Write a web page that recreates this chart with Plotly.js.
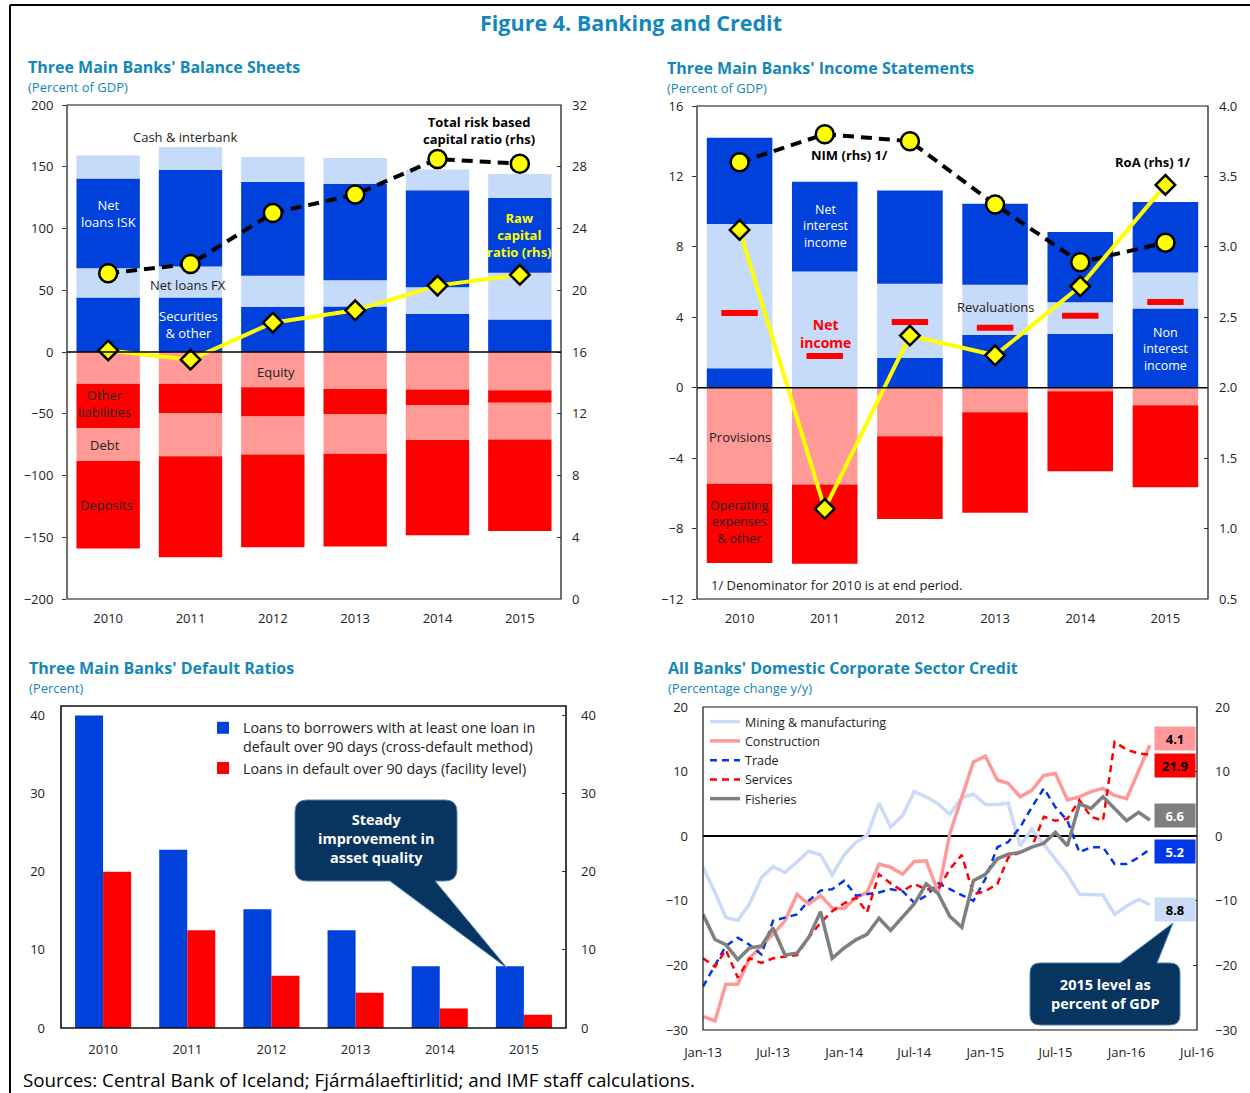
<!DOCTYPE html>
<html>
<head>
<meta charset="utf-8">
<script src="https://cdn.plot.ly/plotly-3.0.1.min.js"></script>
<style>html,body{margin:0;padding:0;background:#fff;}#chart{width:1250px;height:1093px;}</style>
</head>
<body>
<div id="chart"></div>
<script>
// ---------- DATA ----------
const years = ['2010','2011','2012','2013','2014','2015'];

// Panel 1: Three Main Banks' Balance Sheets (percent of GDP)
const bsSecurities = [44.1, 44.1, 36.6, 36.9, 30.7, 26.3];
const bsLoansFX    = [23.8, 25.2, 25.1, 21.2, 21.8, 37.9];
const bsLoansISK   = [72.6, 78.2, 76.0, 78.2, 78.5, 60.4];
const bsCash       = [18.7, 18.4, 20.1, 20.7, 16.8, 19.5];
const bsEquity     = [-25.7, -25.7, -28.5, -29.9, -30.4, -31.0];
const bsOtherLiab  = [-35.8, -23.7, -23.7, -20.7, -12.6, -10.1];
const bsDebt       = [-26.8, -35.0, -30.8, -31.8, -28.2, -29.8];
const bsDeposits   = [-70.9, -81.8, -75.1, -75.1, -77.1, -74.1];
const totalCapRatio = [21.1, 21.7, 25.0, 26.2, 28.5, 28.2];
const rawCapRatio   = [16.1, 15.5, 17.9, 18.7, 20.3, 21.0];

// Panel 2: Three Main Banks' Income Statements (percent of GDP)
const isNonInterest = [1.1, 0.0, 1.7, 3.0, 3.05, 4.5];
const isReval       = [8.2, 6.6, 4.2, 2.85, 1.8, 2.05];
const isNetInterest = [4.9, 5.1, 5.3, 4.6, 4.0, 4.0];
const isProvisions  = [-5.45, -5.5, -2.75, -1.4, -0.2, -1.0];
const isOpex        = [-4.5, -4.5, -4.7, -5.7, -4.55, -4.65];
const isNetIncome   = [4.24, 1.8, 3.73, 3.4, 4.09, 4.87];
const nim = [3.60, 3.80, 3.75, 3.30, 2.89, 3.03];
const roa = [3.12, 1.14, 2.37, 2.23, 2.72, 3.44];

// Panel 3: Default ratios (percent)
const crossDefault    = [40.0, 22.8, 15.2, 12.5, 7.9, 7.9];
const facilityDefault = [20.0, 12.5, 6.7, 4.5, 2.5, 1.7];

// Panel 4: Domestic corporate credit, % change y/y (monthly)
const months = ['2013-01','2013-02','2013-03','2013-04','2013-05','2013-06','2013-07','2013-08','2013-09','2013-10','2013-11','2013-12',
  '2014-01','2014-02','2014-03','2014-04','2014-05','2014-06','2014-07','2014-08','2014-09','2014-10','2014-11','2014-12',
  '2015-01','2015-02','2015-03','2015-04','2015-05','2015-06','2015-07','2015-08','2015-09','2015-10','2015-11','2015-12',
  '2016-01','2016-02','2016-03'];
const mining = [-4.8,-8.7,-12.6,-13.0,-10.5,-6.4,-4.7,-5.6,-4.0,-2.3,-2.9,-6.0,
  -2.9,-0.9,0.1,5.1,1.4,3.2,6.9,6.1,5.0,3.4,6.0,6.5,
  4.9,4.9,5.1,-1.5,1.1,-1.2,-3.5,-5.9,-9.0,-9.1,-9.1,-12.1,
  -10.8,-9.8,-10.6];
const construction = [-27.9,-28.6,-22.9,-22.9,-18.9,-17.0,-15.2,-13.1,-9.0,-10.5,-9.2,-11.1,
  -11.2,-9.5,-8.7,-4.3,-4.8,-5.9,-3.9,-3.8,-8.7,0.4,6.0,11.5,
  12.4,8.7,8.2,6.1,7.1,9.4,9.7,5.6,6.1,6.9,7.4,6.3,
  5.8,10.2,14.1];
const trade = [-23.3,-19.9,-17.0,-15.7,-16.8,-18.3,-13.1,-12.6,-12.1,-10.0,-8.4,-8.2,
  -6.9,-9.2,-9.0,-8.7,-8.2,-8.5,-10.3,-9.2,-7.3,-8.2,-9.0,-10.0,
  -6.6,-1.7,-0.9,1.4,4.5,7.4,4.5,2.4,-2.5,-1.7,-1.7,-4.3,
  -4.3,-3.3,-2.0];
const services = [-18.9,-20.2,-17.6,-21.9,-18.9,-19.6,-18.9,-18.6,-18.4,-15.7,-13.4,-11.6,
  -10.4,-9.5,-11.8,-5.9,-7.3,-8.5,-7.4,-8.2,-8.2,-5.1,-2.9,-9.0,
  -8.5,-7.4,-3.3,-2.5,-1.7,3.0,2.4,2.7,5.6,3.0,2.4,14.6,
  13.4,12.8,12.6];
const fisheries = [-12.1,-16.0,-16.8,-19.1,-17.3,-17.0,-14.2,-18.4,-18.1,-15.7,-11.7,-18.9,
  -17.3,-16.0,-15.2,-12.7,-14.6,-12.6,-10.5,-7.4,-8.9,-12.4,-14.1,-6.9,
  -5.9,-3.5,-2.8,-2.5,-1.7,-1.1,0.6,-1.5,5.0,4.3,6.1,4.3,
  2.4,3.7,2.5];
// 2015 level as percent of GDP
const gdpLevelLabels = ['Mining & manufacturing','Construction','Trade','Services','Fisheries'];
const gdpLevels = [8.8, 4.1, 5.2, 21.9, 6.6];

// ---------- STYLE ----------
const W = 1250, H = 1093;
const FONT = 'Open Sans, Noto Sans, sans-serif';
const TEAL = '#1487BA';
const DBLUE = '#0041DC', LBLUE = '#C6DAFA', LRED = '#FF9A96', RED = '#FF0000';
const px = x => x / W;
const py = y => 1 - y / H;

const traces = [];
function bar(y, color, name, xa, ya, extra) {
  return Object.assign({type:'bar', x: years, y: y, name: name, xaxis: xa, yaxis: ya,
    marker:{color: color, line:{width:0}}, showlegend:false, hoverinfo:'y+name'}, extra || {});
}
// Panel 1 bars
traces.push(bar(bsSecurities, DBLUE, 'Securities & other', 'x', 'y'));
traces.push(bar(bsLoansFX, LBLUE, 'Net loans FX', 'x', 'y'));
traces.push(bar(bsLoansISK, DBLUE, 'Net loans ISK', 'x', 'y'));
traces.push(bar(bsCash, LBLUE, 'Cash & interbank', 'x', 'y'));
traces.push(bar(bsEquity, LRED, 'Equity', 'x', 'y'));
traces.push(bar(bsOtherLiab, RED, 'Other liabilities', 'x', 'y'));
traces.push(bar(bsDebt, LRED, 'Debt', 'x', 'y'));
traces.push(bar(bsDeposits, RED, 'Deposits', 'x', 'y'));
traces.push({type:'scatter', mode:'lines+markers', x: years, y: totalCapRatio, xaxis:'x', yaxis:'y2',
  name:'Total risk based capital ratio', showlegend:false,
  line:{color:'#000', width:4, dash:'11px,7px'},
  marker:{symbol:'circle', size:18, color:'#FFFF00', line:{color:'#000', width:2.5}}});
traces.push({type:'scatter', mode:'lines+markers', x: years, y: rawCapRatio, xaxis:'x', yaxis:'y2',
  name:'Raw capital ratio', showlegend:false,
  line:{color:'#FFFF00', width:4},
  marker:{symbol:'diamond', size:15, color:'#FFFF00', line:{color:'#000', width:2.5}}});

// Panel 2 bars
traces.push(bar(isNonInterest, DBLUE, 'Non interest income', 'x2', 'y3'));
traces.push(bar(isReval, LBLUE, 'Revaluations', 'x2', 'y3'));
traces.push(bar(isNetInterest, DBLUE, 'Net interest income', 'x2', 'y3'));
traces.push(bar(isProvisions, LRED, 'Provisions', 'x2', 'y3'));
traces.push(bar(isOpex, RED, 'Operating expenses & other', 'x2', 'y3'));
traces.push({type:'scatter', mode:'markers', x: years, y: isNetIncome, xaxis:'x2', yaxis:'y3',
  name:'Net income', showlegend:false,
  marker:{symbol:'line-ew', size:26, color:RED, line:{color:RED, width:6}}});
traces.push({type:'scatter', mode:'lines+markers', x: years, y: nim, xaxis:'x2', yaxis:'y4',
  name:'NIM (rhs)', showlegend:false,
  line:{color:'#000', width:4, dash:'11px,7px'},
  marker:{symbol:'circle', size:18, color:'#FFFF00', line:{color:'#000', width:2.5}}});
traces.push({type:'scatter', mode:'lines+markers', x: years, y: roa, xaxis:'x2', yaxis:'y4',
  name:'RoA (rhs)', showlegend:false,
  line:{color:'#FFFF00', width:4},
  marker:{symbol:'diamond', size:15, color:'#FFFF00', line:{color:'#000', width:2.5}}});

// Panel 3 bars (grouped)
traces.push({type:'bar', x: years, y: crossDefault, xaxis:'x3', yaxis:'y5', legend:'legend2',
  name:'Loans to borrowers with at least one loan in<br>default over 90 days (cross-default method)',
  marker:{color:DBLUE}, offsetgroup:'a', width:0.333, offset:-0.333});
traces.push({type:'bar', x: years, y: facilityDefault, xaxis:'x3', yaxis:'y5', legend:'legend2',
  name:'Loans in default over 90 days (facility level)',
  marker:{color:RED}, offsetgroup:'b', width:0.333, offset:0});
traces.push({type:'scatter', mode:'markers', x: years, y: years.map(() => null), xaxis:'x3', yaxis:'y6',
  showlegend:false, hoverinfo:'skip'});

// Panel 4 lines
function ln(y, name, color, width, dash) {
  return {type:'scatter', mode:'lines', x: months, y: y, name: name, xaxis:'x4', yaxis:'y7',
    line:{color:color, width:width, dash:dash || 'solid'}, legend:'legend'};
}
traces.push(ln(mining, 'Mining & manufacturing', '#C9DBF7', 3.5));
traces.push(ln(construction, 'Construction', '#FF9999', 3.5));
traces.push(ln(trade, 'Trade', '#0037E6', 2.5, '7px,5px'));
traces.push(ln(services, 'Services', '#FF0000', 2.5, '7px,5px'));
traces.push(ln(fisheries, 'Fisheries', '#7F7F7F', 3.5));
traces.push({type:'scatter', mode:'markers', x: [months[0]], y: [null], xaxis:'x4', yaxis:'y8',
  showlegend:false, hoverinfo:'skip'});

// ---------- LAYOUT ----------
const tickFont = {family: FONT, size: 13, color: '#222'};
function yax(domain, range, dtick, side, overlay, extra) {
  const a = {domain: domain, range: range, dtick: dtick, showgrid:false, zeroline:false,
    showline:false, tickfont: tickFont, ticks: side === 'right' ? 'inside' : 'outside', ticklen: 4,
    tickcolor:'#333', ticklabelstandoff: 6, fixedrange:true};
  if (side === 'right') { a.side = 'right'; a.overlaying = overlay; a.ticklabelstandoff = 10; }
  return Object.assign(a, extra || {});
}
function xcat(domain, anchor, standoff) {
  return {domain: domain, anchor: anchor, type:'category', showgrid:false, zeroline:false,
    showline:false, ticks:'', tickfont: tickFont, ticklabelstandoff: standoff || 10, fixedrange:true};
}

const d1x = [px(67), px(561)], d1y = [py(599), py(105)];
const d2x = [px(697), px(1208)], d2y = [py(599), py(106)];
const d3x = [px(61), px(566)], d3y = [py(1028), py(706)];
const d4x = [px(703), px(1197)], d4y = [py(1030), py(707)];

const layout = {
  width: W, height: H, margin:{l:0, r:0, t:0, b:0},
  paper_bgcolor:'#fff', plot_bgcolor:'rgba(0,0,0,0)',
  font:{family: FONT, size: 13, color:'#222'},
  barmode:'relative', bargap: 0.23,
  xaxis: xcat(d1x, 'y'),
  yaxis: yax(d1y, [-200, 200], 50, 'left'),
  yaxis2: yax(d1y, [0, 32], 4, 'right', 'y', {anchor:'x'}),
  xaxis2: xcat(d2x, 'y3'),
  yaxis3: yax(d2y, [-12, 16], 4, 'left', null, {anchor:'x2'}),
  yaxis4: yax(d2y, [0.5, 4.0], 0.5, 'right', 'y3', {anchor:'x2', tickformat:'.1f'}),
  xaxis3: xcat(d3x, 'y5', 12),
  yaxis5: yax(d3y, [0, 41.2], 10, 'left', null, {anchor:'x3', tickvals:[0,10,20,30,40], ticks:'', ticklabelstandoff:15}),
  yaxis6: yax(d3y, [0, 41.2], 10, 'right', 'y5', {anchor:'x3', tickvals:[0,10,20,30,40], ticklabelstandoff:14}),
  xaxis4: {domain: d4x, anchor:'y7', type:'date', range:['2013-01-01','2016-07-01'], tick0:'2013-01-01',
    dtick:'M6', tickformat:'%b-%y', showgrid:false, zeroline:false, showline:false, ticks:'',
    tickfont: tickFont, ticklabelstandoff: 13, fixedrange:true},
  yaxis7: yax(d4y, [-30, 20], 10, 'left', null, {anchor:'x4', ticks:'', ticklabelstandoff:14,
    zeroline:true, zerolinecolor:'#000', zerolinewidth:1.5}),
  yaxis8: yax(d4y, [-30, 20], 10, 'right', 'y7', {anchor:'x4', ticklabelstandoff:17}),
  legend: {x: px(705), y: py(707), xanchor:'left', yanchor:'top', bgcolor:'rgba(0,0,0,0)',
    font:{family: FONT, size: 12.5, color:'#222'}, tracegroupgap:0, itemwidth:30},
  legend2: {x: px(203), y: py(712), xanchor:'left', yanchor:'top', bgcolor:'rgba(0,0,0,0)', valign:'top',
    font:{family: FONT, size: 14.3, color:'#222'}, tracegroupgap:0, itemwidth:30},
  shapes: [], annotations: []
};

const S = layout.shapes, A = layout.annotations;
// Outer border
S.push({type:'line', xref:'paper', yref:'paper', x0:px(10), x1:1, y0:py(5), y1:py(5), line:{color:'#000', width:2}});
S.push({type:'line', xref:'paper', yref:'paper', x0:px(10), x1:px(10), y0:py(5), y1:0, line:{color:'#000', width:2}});
// Frames
[['x','y'],['x2','y3'],['x3','y5'],['x4','y7']].forEach(([xa, ya], i) => {
  S.push({type:'rect', xref: xa + ' domain', yref: ya + ' domain', x0:0, x1:1, y0:0, y1:1,
    line:{color:'#111', width: i === 2 ? 1.6 : 1.2}, layer:'above'});
});
// Zero lines for stacked panels
S.push({type:'line', xref:'x domain', yref:'y', x0:0, x1:1, y0:0, y1:0, line:{color:'#000', width:1.5}, layer:'above'});
S.push({type:'line', xref:'x2 domain', yref:'y3', x0:0, x1:1, y0:0, y1:0, line:{color:'#000', width:1.5}, layer:'above'});

// Callouts
function P(x, y) { return px(x).toFixed(5) + ',' + py(y).toFixed(5); }
function callout1() {
  const L=295, T=800, R=457, B=881, r=12, b1=390, b2=435, tx=507, ty=968;
  return 'M'+P(L+r,T)+' L'+P(R-r,T)+' Q'+P(R,T)+' '+P(R,T+r)+' L'+P(R,B-r)+' Q'+P(R,B)+' '+P(R-r,B)+
    ' L'+P(b2,B)+' L'+P(tx,ty)+' L'+P(b1,B)+' L'+P(L+r,B)+' Q'+P(L,B)+' '+P(L,B-r)+' L'+P(L,T+r)+' Q'+P(L,T)+' '+P(L+r,T)+' Z';
}
function callout2() {
  const L=1030, T=963, R=1180, B=1025, r=10, b1=1120, b2=1157, tx=1173, ty=923;
  return 'M'+P(L+r,T)+' L'+P(b1,T)+' L'+P(tx,ty)+' L'+P(b2,T)+' L'+P(R-r,T)+' Q'+P(R,T)+' '+P(R,T+r)+
    ' L'+P(R,B-r)+' Q'+P(R,B)+' '+P(R-r,B)+' L'+P(L+r,B)+' Q'+P(L,B)+' '+P(L,B-r)+' L'+P(L,T+r)+' Q'+P(L,T)+' '+P(L+r,T)+' Z';
}
S.push({type:'path', xref:'paper', yref:'paper', path: callout1(), fillcolor:'#08355F', line:{color:'#4A86B5', width:1}, layer:'above'});
S.push({type:'path', xref:'paper', yref:'paper', path: callout2(), fillcolor:'#08355F', line:{color:'#4A86B5', width:1}, layer:'above'});

// Titles
function ptxt(text, x, y, size, color, opts) {
  A.push(Object.assign({xref:'paper', yref:'paper', x:px(x), y:py(y), text:text, showarrow:false,
    xanchor:'left', yanchor:'middle', font:{family:FONT, size:size, color:color}}, opts || {}));
}
ptxt('<b>Figure 4. Banking and Credit</b>', 631, 23, 21.5, TEAL, {xanchor:'center'});
ptxt("<b>Three Main Banks' Balance Sheets</b>", 26, 67, 16, TEAL);
ptxt('(Percent of GDP)', 26, 87, 13, TEAL);
ptxt("<b>Three Main Banks' Income Statements</b>", 665, 68, 16, TEAL);
ptxt('(Percent of GDP)', 665, 88, 13, TEAL);
ptxt("<b>Three Main Banks' Default Ratios</b>", 27, 668, 16, TEAL);
ptxt('(Percent)', 27, 688, 13, TEAL);
ptxt("<b>All Banks' Domestic Corporate Sector Credit</b>", 666, 668, 16, TEAL);
ptxt('(Percentage change y/y)', 666, 688, 13, TEAL);
ptxt('Sources: Central Bank of Iceland; Fjármálaeftirlitid; and IMF staff calculations.', 22, 1080, 18.8, '#000',
  {borderpad:0});
ptxt('1/ Denominator for 2010 is at end period.', 709, 585, 13, '#222');

// Panel labels (data-referenced)
function dtxt(text, xa, ya, x, y, color, size, opts) {
  A.push(Object.assign({xref:xa, yref:ya, x:x, y:y, text:text, showarrow:false,
    xanchor:'center', yanchor:'middle', font:{family:FONT, size:size || 13, color:color}}, opts || {}));
}
dtxt('Cash & interbank', 'x', 'y', 0.93, 174, '#222');
dtxt('<b>Total risk based<br>capital ratio (rhs)</b>', 'x', 'y', 4.51, 179, '#000');
dtxt('Net<br>loans ISK', 'x', 'y', 0, 112, '#fff');
dtxt('<b>Raw<br>capital<br>ratio (rhs)</b>', 'x', 'y', 5, 95, '#FFFF00');
dtxt('Net loans FX', 'x', 'y', 0.97, 54, '#222');
dtxt('Securities<br>& other', 'x', 'y', 0.98, 22, '#fff');
dtxt('Equity', 'x', 'y', 2.04, -16, '#222');
dtxt('Other<br>liabilities', 'x', 'y', -0.04, -42, '#222');
dtxt('Debt', 'x', 'y', -0.04, -75, '#222');
dtxt('Deposits', 'x', 'y', -0.02, -124, '#222');

dtxt('<b>NIM (rhs) 1/</b>', 'x2', 'y3', 1.29, 13.2, '#000');
dtxt('<b>RoA (rhs) 1/</b>', 'x2', 'y3', 4.86, 12.8, '#000');
dtxt('Net<br>interest<br>income', 'x2', 'y3', 1.01, 9.2, '#fff', 12.5);
dtxt('<b>Net<br>income</b>', 'x2', 'y3', 1.01, 3.1, '#FF0000', 14);
dtxt('Revaluations', 'x2', 'y3', 3.0, 4.6, '#222');
dtxt('Non<br>interest<br>income', 'x2', 'y3', 5.0, 2.2, '#fff', 12.5);
dtxt('Provisions', 'x2', 'y3', 0, -2.8, '#222');
dtxt('Operating<br>expenses<br>& other', 'x2', 'y3', 0, -7.6, '#222', 12.5);

// Callout texts
ptxt('<b>Steady<br>improvement in<br>asset quality</b>', 376, 838, 14.5, '#fff', {xanchor:'center'});
ptxt('<b>2015 level as<br>percent of GDP</b>', 1105, 994, 14.5, '#fff', {xanchor:'center'});

// 2015 level labels (percent of GDP), panel 4
const lblColors = {'Mining & manufacturing':['#C9DBF7','#000'], 'Construction':['#FF9999','#000'],
  'Trade':['#0037E6','#fff'], 'Services':['#FF0000','#000'], 'Fisheries':['#7F7F7F','#fff']};
const lblY = {'Mining & manufacturing':-11.4, 'Construction':15.1, 'Trade':-2.4, 'Services':11.0, 'Fisheries':3.2};
gdpLevelLabels.forEach((name, i) => {
  A.push({xref:'paper', yref:'y7', x:px(1175), y:lblY[name], text:'<b>' + gdpLevels[i].toFixed(1) + '</b>',
    showarrow:false, xanchor:'center', yanchor:'middle', bgcolor:lblColors[name][0], width:38, height:21,
    font:{family:FONT, size:13, color:lblColors[name][1]}});
});

Plotly.newPlot('chart', traces, layout, {displayModeBar:false, staticPlot:true});
</script>
</body>
</html>
